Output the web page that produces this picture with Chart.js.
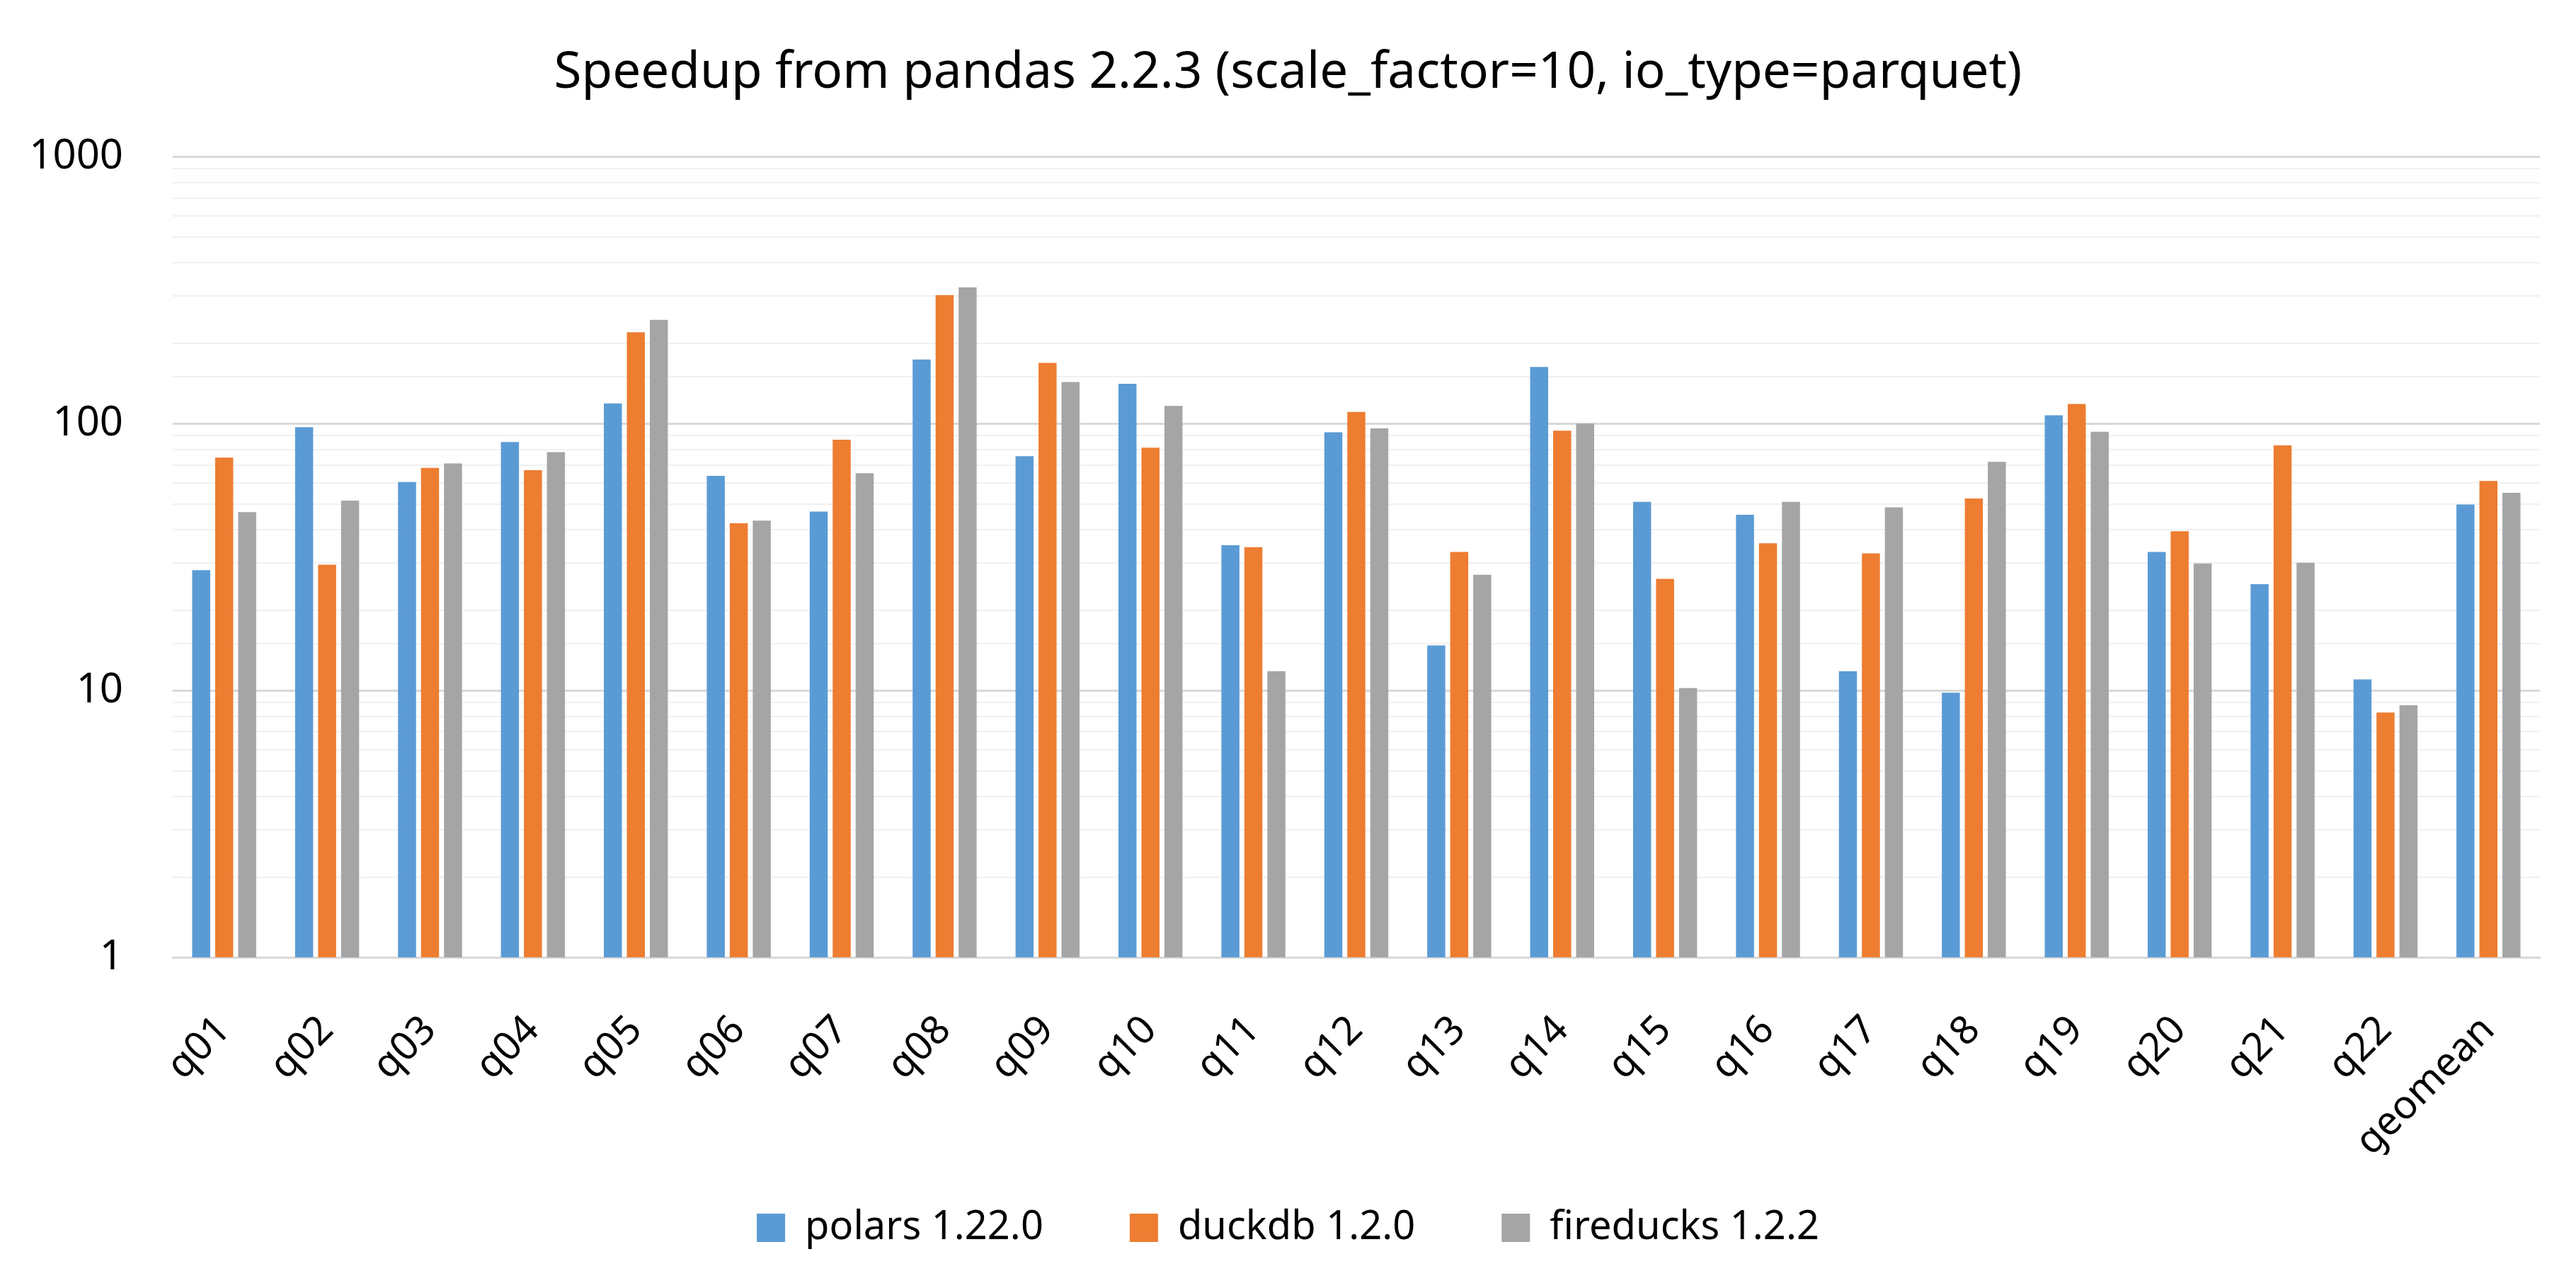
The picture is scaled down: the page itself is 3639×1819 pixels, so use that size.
<!DOCTYPE html>
<html>
<head>
<meta charset="utf-8">
<title>Speedup from pandas</title>
<script src="https://cdn.jsdelivr.net/npm/chart.js@4"></script>
<style>
  html, body { margin: 0; padding: 0; background: #ffffff; }
  #wrap { width: 3639px; height: 1819px; position: relative; }
</style>
</head>
<body>
<div id="wrap"><canvas id="speedup"></canvas></div>
<script>
// queries (x categories)
const queries = ['q01', 'q02', 'q03', 'q04', 'q05', 'q06', 'q07', 'q08', 'q09', 'q10', 'q11',
    'q12', 'q13', 'q14', 'q15', 'q16', 'q17', 'q18', 'q19', 'q20', 'q21', 'q22', 'geomean'];

// speedup vs pandas (log axis)
const polars = [28.2, 96.9, 60.4, 85.3, 118.9, 63.7, 46.8, 173.8, 75.5, 141, 35.0,
    92.7, 14.75, 163, 50.9, 45.5, 11.8, 9.8, 107.3, 33.0, 25.0, 11.0, 49.7];
const duckdb = [74.5, 29.6, 68.2, 66.9, 219.7, 42.3, 87.0, 303, 168.8, 81.2, 34.4,
    110.5, 33.0, 94.0, 26.2, 35.6, 32.6, 52.4, 118.3, 39.5, 82.8, 8.26, 60.9];
const fireducks = [46.6, 51.4, 70.9, 78.2, 244.5, 43.3, 65.2, 324, 143, 116.5, 11.8,
    95.9, 27.1, 100, 10.2, 50.9, 48.5, 71.9, 93.1, 29.9, 30.1, 8.8, 55.0];

const seriesNames = ['polars 1.22.0', 'duckdb 1.2.0', 'fireducks 1.2.2'];
const yLabels = [1, 10, 100, 1000];

const FONT = "'Noto Sans', 'Open Sans', sans-serif";

function isMajor(v) {
    return yLabels.indexOf(v) !== -1;
}

// title and legend are centred on the whole canvas, and the legend sits
// a bit higher than its layout box so the rotated x labels keep their room
const boxTweak = {
    id: 'boxTweak',
    afterLayout(chart) {
        const t = chart.titleBlock;
        if (t) { t.left = 0; t.right = chart.width; }
        const lg = chart.legend;
        if (lg) {
            lg.left = 0;
            lg.right = chart.width;
            lg.top -= 47;
            lg.bottom -= 47;
        }
    }
};

const ctx = document.getElementById('speedup');

const chart = new Chart(ctx, {
    type: 'bar',
    data: {
        labels: queries,
        datasets: [
            { label: seriesNames[0], data: polars, backgroundColor: '#5B9BD5' },
            { label: seriesNames[1], data: duckdb, backgroundColor: '#ED7D31' },
            { label: seriesNames[2], data: fireducks, backgroundColor: '#A5A5A5' }
        ]
    },
    options: {
        responsive: true,
        maintainAspectRatio: false,
        devicePixelRatio: 1,
        animation: false,
        categoryPercentage: 0.67,
        barPercentage: 0.785,
        layout: { padding: { left: 0, right: 51, top: 0, bottom: 0 } },
        plugins: {
            title: {
                display: true,
                text: 'Speedup from pandas 2.2.3 (scale_factor=10, io_type=parquet)',
                color: '#000000',
                font: { family: FONT, size: 71, weight: 'normal', lineHeight: 1.2 },
                padding: { top: 61, bottom: 75 }
            },
            legend: {
                display: true,
                position: 'bottom',
                labels: {
                    boxWidth: 40,
                    boxHeight: 40,
                    padding: 122,
                    color: '#000000',
                    font: { family: FONT, size: 56 }
                }
            },
            tooltip: { enabled: false }
        },
        scales: {
            x: {
                grid: { display: false, drawTicks: false },
                border: { display: true, color: '#D9D9D9', width: 3 },
                ticks: {
                    color: '#000000',
                    font: { family: FONT, size: 56 },
                    minRotation: 45,
                    maxRotation: 45,
                    autoSkip: false,
                    padding: 70
                },
                afterFit: function(scale) {
                    scale.height = 279;
                }
            },
            y: {
                type: 'logarithmic',
                min: 1,
                max: 1000,
                border: { display: false },
                grid: {
                    drawTicks: false,
                    color: function(c) {
                        return isMajor(c.tick.value) ? '#D9D9D9' : '#F0F0F0';
                    },
                    lineWidth: function(c) {
                        return isMajor(c.tick.value) ? 3 : 2;
                    }
                },
                ticks: {
                    color: '#000000',
                    font: { family: FONT, size: 58 },
                    padding: 70,
                    autoSkip: false,
                    callback: function(value) {
                        return isMajor(value) ? String(value) : '';
                    }
                },
                afterFit: function(scale) {
                    scale.width = 244;
                }
            }
        }
    },
    plugins: [boxTweak]
});
</script>
</body>
</html>
